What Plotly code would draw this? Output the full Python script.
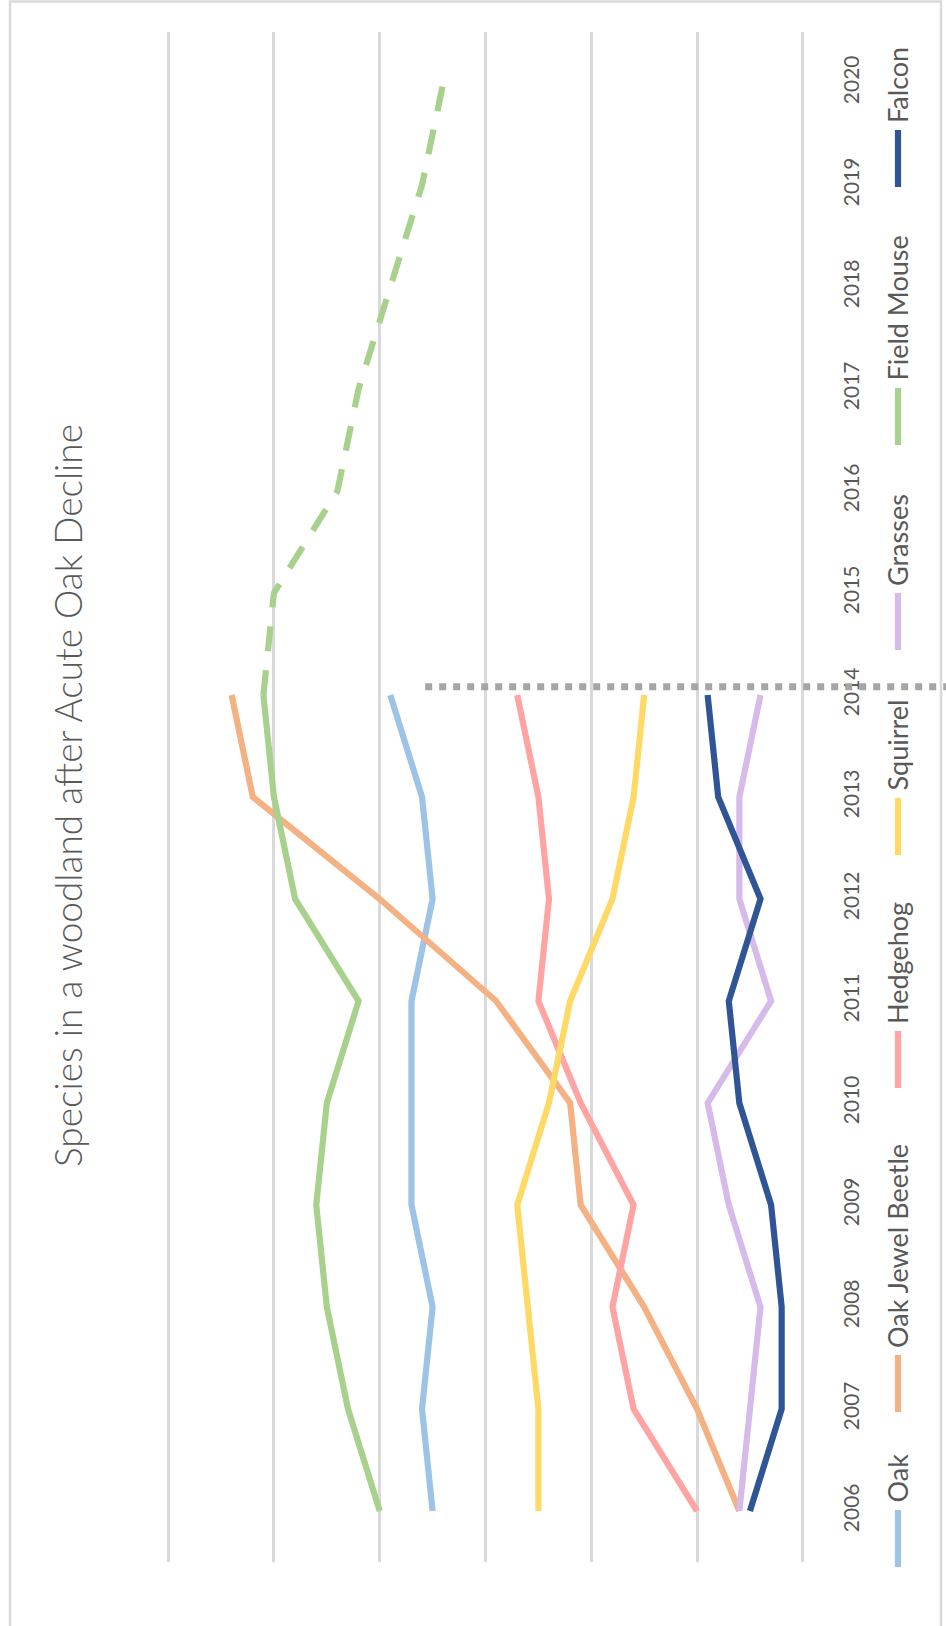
import plotly.graph_objects as go

# ---------------- data ----------------
years_observed = [2006, 2007, 2008, 2009, 2010, 2011, 2012, 2013, 2014]
years_projected = [2014, 2015, 2016, 2017, 2018, 2019, 2020]
year_ticks = list(range(2006, 2021))

oak = [35, 36, 35, 37, 37, 37, 35, 36, 39]
oak_jewel_beetle = [6, 10, 15, 21, 22, 29, 40, 52, 54]
hedgehog = [10, 16, 18, 16, 21, 25, 24, 25, 27]
squirrel = [25, 25, 26, 27, 24, 22, 18, 16, 15]
grasses = [6, 5, 4, 7, 9, 3, 6, 6, 4]
field_mouse = [40, 43, 45, 46, 45, 42, 48, 50, 51]
field_mouse_projected = [51, 50, 44, 42, 39, 36, 34]
falcon = [5, 2, 2, 3, 6, 7, 4, 8, 9]

marker_year = 2014.08      # dotted reference line
marker_value_start = 35.7

series_names = ["Oak", "Oak Jewel Beetle", "Hedgehog", "Squirrel",
                "Grasses", "Field Mouse", "Falcon"]
series_colors = ["#9DC3E6", "#F4B183", "#FFA3A3", "#FFD966",
                 "#D6BBEA", "#A9D18E", "#2F5597"]
series_values = [oak, oak_jewel_beetle, hedgehog, squirrel,
                 grasses, field_mouse, falcon]

title_text = "Species in a woodland after Acute Oak Decline"

# ---------------- layout geometry (pixels) ----------------
W, H = 946, 1626
L, R, T, B = 165, 140, 32, 64
PW, PH = W - L - R, H - T - B
X_LO, X_HI = -0.3, 60.3


def px(x):
    return (x - L) / PW


def py(y):
    return (H - B - y) / PH


def value_to_px(v):
    return L + (X_HI - v) / (X_HI - X_LO) * PW


FONT = "Lato"
GRAY_TXT = "#595959"
GRID = "#D9D9D9"
LW = 6.2

fig = go.Figure()

for name, color, vals in zip(series_names, series_colors, series_values):
    fig.add_trace(go.Scatter(
        x=vals, y=years_observed, mode="lines", name=name,
        line=dict(color=color, width=LW), showlegend=False,
        hoverinfo="skip"))
    if name == "Field Mouse":
        fig.add_trace(go.Scatter(
            x=field_mouse_projected, y=years_projected, mode="lines",
            name="Field Mouse (projected)",
            line=dict(color=color, width=LW, dash="25px,19px"),
            showlegend=False, hoverinfo="skip"))

shapes = []
# outer frame
shapes.append(dict(type="rect", xref="paper", yref="paper",
                   x0=px(10), x1=px(941), y0=py(1.5), y1=py(1660),
                   line=dict(color=GRID, width=2.5), layer="below"))
# dotted reference line (extends past the axis labels)
shapes.append(dict(type="line", xref="paper", yref="y",
                   x0=px(value_to_px(marker_value_start)), x1=px(950),
                   y0=marker_year, y1=marker_year,
                   line=dict(color="#A5A5A5", width=7, dash="dot")))

annotations = []
annotations.append(dict(text=title_text, xref="paper", yref="paper",
                        x=px(67), y=py(796), textangle=-90,
                        showarrow=False, xanchor="center", yanchor="middle",
                        font=dict(family=FONT, size=37, color=GRAY_TXT, weight=300)))

# manual rotated legend
legend_starts = [1567, 1412, 1088, 855, 650, 445, 187]
LEG_X = 898
for name, color, y0 in zip(series_names, series_colors, legend_starts):
    shapes.append(dict(type="line", xref="paper", yref="paper",
                       x0=px(LEG_X), x1=px(LEG_X), y0=py(y0), y1=py(y0 - 57),
                       line=dict(color=color, width=LW)))
    annotations.append(dict(text=name, xref="paper", yref="paper",
                            x=px(LEG_X - 1), y=py(y0 - 62), textangle=-90,
                            showarrow=False, xanchor="center", yanchor="bottom",
                            font=dict(family=FONT, size=27, color=GRAY_TXT)))

fig.update_layout(
    width=W, height=H,
    margin=dict(l=L, r=R, t=T, b=B, autoexpand=False),
    paper_bgcolor="white", plot_bgcolor="white",
    shapes=shapes, annotations=annotations, showlegend=False,
    xaxis=dict(range=[X_HI, X_LO], tick0=0, dtick=10, showgrid=True,
               gridcolor=GRID, gridwidth=2.5, zeroline=False,
               showticklabels=False, showline=False, ticks=""),
    yaxis=dict(range=[2005.5, 2020.5], side="right", tickvals=year_ticks,
               ticktext=[str(y) for y in year_ticks], tickangle=-90,
               showgrid=False, zeroline=False, showline=False,
               ticks="outside", ticklen=27, tickcolor="rgba(0,0,0,0)",
               tickfont=dict(family=FONT, size=21, color=GRAY_TXT)),
)

fig.write_html("out.html", config={"displayModeBar": False},
               post_script="document.body.style.margin='0';document.body.style.overflow='hidden';")
